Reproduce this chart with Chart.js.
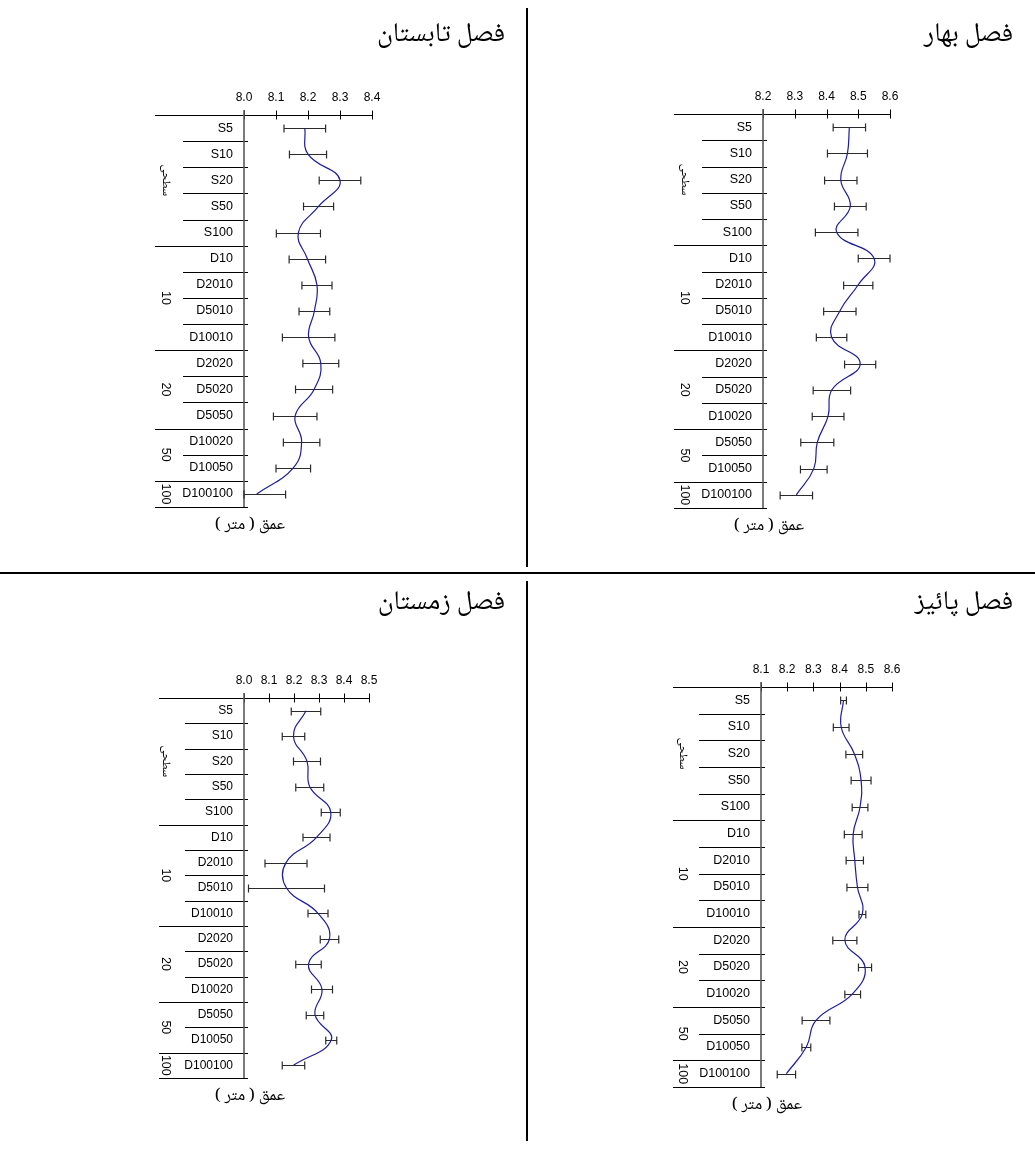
<!DOCTYPE html>
<html>
<head>
<meta charset="utf-8">
<title>pH profiles by season</title>
<script src="https://cdn.jsdelivr.net/npm/chart.js@4.4.1/dist/chart.umd.min.js"></script>
<style>
  html, body { margin: 0; padding: 0; background: #fff; }
  #page { position: relative; width: 1035px; height: 1149px; overflow: hidden; background: #fff; }
  #page canvas { position: absolute; }
  .rule { position: absolute; background: #000; }
</style>
</head>
<body>
<div id="page">
  <div class="rule" style="left:526px; top:8px; width:2px; height:559px;"></div>
  <div class="rule" style="left:0; top:572px; width:1035px; height:2px;"></div>
  <div class="rule" style="left:526px; top:581px; width:2px; height:560px;"></div>
</div>
<script>
// ---- station labels (top to bottom) ----
const summerLabels = ['S5', 'S10', 'S20', 'S50', 'S100', 'D10', 'D2010', 'D5010', 'D10010', 'D2020', 'D5020', 'D5050', 'D10020', 'D10050', 'D100100'];
const springLabels = ['S5', 'S10', 'S20', 'S50', 'S100', 'D10', 'D2010', 'D5010', 'D10010', 'D2020', 'D5020', 'D10020', 'D5050', 'D10050', 'D100100'];
const autumnLabels = ['S5', 'S10', 'S20', 'S50', 'S100', 'D10', 'D2010', 'D5010', 'D10010', 'D2020', 'D5020', 'D10020', 'D5050', 'D10050', 'D100100'];
const winterLabels = ['S5', 'S10', 'S20', 'S50', 'S100', 'D10', 'D2010', 'D5010', 'D10010', 'D2020', 'D5020', 'D10020', 'D5050', 'D10050', 'D100100'];

// ---- depth groups (row counts per group, top to bottom) ----
const groupNames = ['سطحی', '10', '20', '50', '100'];
const groupSizes = [5, 4, 3, 2, 1];

// ---- mean pH and error half-widths ----
const summerMean = [8.19, 8.20, 8.30, 8.233, 8.17, 8.198, 8.228, 8.22, 8.202, 8.24, 8.219, 8.16, 8.18, 8.154, 8.04];
const summerErr  = [0.065, 0.058, 0.065, 0.047, 0.069, 0.057, 0.047, 0.048, 0.082, 0.056, 0.058, 0.068, 0.057, 0.054, 0.09];

const springMean = [8.472, 8.466, 8.445, 8.475, 8.432, 8.55, 8.50, 8.442, 8.416, 8.506, 8.417, 8.405, 8.371, 8.36, 8.305];
const springErr  = [0.051, 0.063, 0.051, 0.05, 0.067, 0.05, 0.046, 0.051, 0.048, 0.049, 0.059, 0.05, 0.052, 0.042, 0.051];

const winterMean = [8.248, 8.198, 8.252, 8.263, 8.347, 8.29, 8.168, 8.17, 8.296, 8.342, 8.258, 8.312, 8.284, 8.349, 8.198];
const winterErr  = [0.059, 0.045, 0.054, 0.056, 0.038, 0.054, 0.084, 0.152, 0.04, 0.037, 0.051, 0.042, 0.035, 0.022, 0.045];

const autumnMean = [8.415, 8.406, 8.456, 8.482, 8.478, 8.452, 8.458, 8.468, 8.487, 8.42, 8.497, 8.45, 8.31, 8.273, 8.197];
const autumnErr  = [0.011, 0.03, 0.032, 0.038, 0.03, 0.034, 0.033, 0.04, 0.013, 0.046, 0.025, 0.03, 0.053, 0.017, 0.035];

// ---- axis ticks ----
const summerTicks = [8.0, 8.1, 8.2, 8.3, 8.4];
const springTicks = [8.2, 8.3, 8.4, 8.5, 8.6];
const winterTicks = [8.0, 8.1, 8.2, 8.3, 8.4, 8.5];
const autumnTicks = [8.1, 8.2, 8.3, 8.4, 8.5, 8.6];

// ---- titles ----
const summerTitle = 'فصل تابستان';
const springTitle = 'فصل بهار';
const winterTitle = 'فصل زمستان';
const autumnTitle = 'فصل پائیز';
const depthTitle = 'عمق ( متر )';

const FONT_LATIN = "'Liberation Sans', Arial, Helvetica, sans-serif";
const FONT_ARABIC = "'Noto Naskh Arabic', 'Times New Roman', 'Liberation Serif', 'DejaVu Sans', serif";

// panel geometry (canvas placement and plot box, in canvas pixels)
const panels = [
  { title: summerTitle, labels: summerLabels, mean: summerMean, err: summerErr, ticks: summerTicks,
    left: 0, top: 0, w: 517, h: 573, axisX: 244, axisY: 115, right: 372, bottom: 507,
    fontSize: 12.5, longLead: 89, shortLead: 61, titleRight: 505, titleY: 38 },
  { title: springTitle, labels: springLabels, mean: springMean, err: springErr, ticks: springTicks,
    left: 518, top: 0, w: 517, h: 573, axisX: 245, axisY: 114, right: 372, bottom: 508,
    fontSize: 12.5, longLead: 89, shortLead: 61, titleRight: 495, titleY: 38 },
  { title: winterTitle, labels: winterLabels, mean: winterMean, err: winterErr, ticks: winterTicks,
    left: 0, top: 573, w: 517, h: 576, axisX: 244, axisY: 125, right: 369, bottom: 505,
    fontSize: 12, longLead: 85, shortLead: 59, titleRight: 505, titleY: 33 },
  { title: autumnTitle, labels: autumnLabels, mean: autumnMean, err: autumnErr, ticks: autumnTicks,
    left: 518, top: 573, w: 517, h: 576, axisX: 243, axisY: 114, right: 374, bottom: 514,
    fontSize: 12.5, longLead: 88, shortLead: 62, titleRight: 495, titleY: 33 }
];

// frame lines, group labels, titles and error bars drawn from the chart scales
const profileDecor = {
  id: 'profileDecor',
  beforeDatasetsDraw(chart, args, opts) {
    const { ctx, chartArea: a, scales: { x, y } } = chart;
    const n = opts.labels.length;
    const c0 = y.getPixelForValue(0);
    const half = (y.getPixelForValue(1) - c0) / 2;
    const px = v => Math.round(v) + 0.5;

    ctx.save();
    ctx.strokeStyle = '#000';
    ctx.lineWidth = 1;

    // top axis line with ticks
    const ty = px(a.top);
    ctx.beginPath();
    ctx.moveTo(a.left - opts.longLead, ty);
    ctx.lineTo(a.right, ty);
    x.ticks.forEach(t => {
      const tx = px(x.getPixelForValue(t.value));
      ctx.moveTo(tx, ty - 5);
      ctx.lineTo(tx, ty + 4);
    });
    ctx.stroke();

    // row separators: long at group ends, short otherwise
    const groupEnds = new Set();
    let acc = 0;
    groupSizes.forEach(s => { acc += s; groupEnds.add(acc); });
    ctx.beginPath();
    for (let i = 1; i <= n; i++) {
      const yb = px(y.getPixelForValue(i - 1) + half);
      const lead = groupEnds.has(i) ? opts.longLead : opts.shortLead;
      ctx.moveTo(a.left - lead, yb);
      ctx.lineTo(a.left + 4, yb);
    }
    ctx.stroke();

    // vertical axis at the scale minimum
    ctx.strokeStyle = '#5a5a5a';
    ctx.lineWidth = 1.6;
    ctx.beginPath();
    ctx.moveTo(a.left, a.top - 5);
    ctx.lineTo(a.left, y.getPixelForValue(n - 1) + half);
    ctx.stroke();

    // depth group labels, rotated
    ctx.fillStyle = '#000';
    ctx.textAlign = 'center';
    ctx.textBaseline = 'middle';
    let start = 0;
    groupSizes.forEach((s, gi) => {
      const yTop = y.getPixelForValue(start) - half;
      const yBot = y.getPixelForValue(start + s - 1) + half;
      const name = groupNames[gi];
      const isArabic = /[\u0600-\u06FF]/.test(name);
      ctx.save();
      ctx.translate(a.left - 79, (yTop + yBot) / 2);
      ctx.rotate(Math.PI / 2);
      ctx.font = isArabic ? `12px ${FONT_ARABIC}` : `12.5px ${FONT_LATIN}`;
      if (isArabic) ctx.direction = 'rtl';
      ctx.fillText(name, 0, 0);
      ctx.restore();
      start += s;
    });

    // depth axis caption
    ctx.font = `17px ${FONT_ARABIC}`;
    ctx.direction = 'rtl';
    ctx.textAlign = 'center';
    ctx.fillText(depthTitle, a.left + 6, y.getPixelForValue(n - 1) + half + 20);

    // season title
    ctx.font = `27px ${FONT_ARABIC}`;
    ctx.textAlign = 'right';
    ctx.direction = 'rtl';
    ctx.fillText(opts.title, opts.titleRight, opts.titleY);
    ctx.restore();

    // error bars
    ctx.save();
    ctx.strokeStyle = '#2b2b2b';
    ctx.lineWidth = 1.2;
    ctx.beginPath();
    opts.mean.forEach((m, i) => {
      const cy = Math.round(y.getPixelForValue(i)) + 0.5;
      const x1 = Math.max(x.getPixelForValue(m - opts.err[i]), a.left);
      const x2 = x.getPixelForValue(m + opts.err[i]);
      ctx.moveTo(x1, cy); ctx.lineTo(x2, cy);
      ctx.moveTo(x1, cy - 4); ctx.lineTo(x1, cy + 4);
      ctx.moveTo(x2, cy - 4); ctx.lineTo(x2, cy + 4);
    });
    ctx.stroke();
    ctx.restore();
  }
};

panels.forEach(p => {
  const cv = document.createElement('canvas');
  cv.width = p.w; cv.height = p.h;
  cv.style.left = p.left + 'px';
  cv.style.top = p.top + 'px';
  cv.style.width = p.w + 'px';
  cv.style.height = p.h + 'px';
  document.getElementById('page').appendChild(cv);

  new Chart(cv, {
    type: 'line',
    data: {
      labels: p.labels,
      datasets: [{
        data: p.mean,
        borderColor: '#1d1d9b',
        borderWidth: 1.2,
        pointRadius: 0,
        pointHoverRadius: 0,
        tension: 0.45,
        fill: false,
        clip: false
      }]
    },
    options: {
      indexAxis: 'y',
      responsive: false,
      animation: false,
      devicePixelRatio: 1,
      layout: { padding: { left: 0, top: 0, right: p.w - p.right, bottom: p.h - p.bottom } },
      plugins: {
        legend: { display: false },
        tooltip: { enabled: false },
        title: { display: false },
        profileDecor: { labels: p.labels, mean: p.mean, err: p.err, title: p.title,
                        longLead: p.longLead, shortLead: p.shortLead,
                        titleRight: p.titleRight, titleY: p.titleY }
      },
      scales: {
        x: {
          type: 'linear',
          position: 'top',
          min: p.ticks[0],
          max: p.ticks[p.ticks.length - 1],
          afterBuildTicks: s => { s.ticks = p.ticks.map(v => ({ value: v })); },
          afterFit: s => { s.height = p.axisY; },
          grid: { display: false, drawTicks: false },
          border: { display: false },
          ticks: {
            callback: v => Number(v).toFixed(1),
            font: { family: FONT_LATIN, size: 12 },
            color: '#000',
            padding: 10,
            autoSkip: false,
            maxRotation: 0
          }
        },
        y: {
          type: 'category',
          position: 'left',
          offset: true,
          afterFit: s => { s.width = p.axisX; },
          grid: { display: false, drawTicks: false },
          border: { display: false },
          ticks: {
            font: { family: FONT_LATIN, size: p.fontSize },
            color: '#000',
            padding: 11,
            autoSkip: false
          }
        }
      }
    },
    plugins: [profileDecor]
  });
});
</script>
</body>
</html>
